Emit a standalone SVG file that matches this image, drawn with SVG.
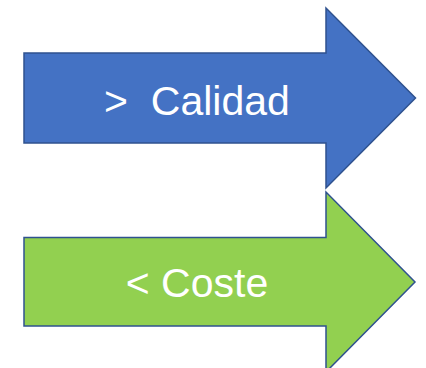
<svg xmlns="http://www.w3.org/2000/svg" width="426" height="368" viewBox="0 0 426 368">
<style>
.arrow{stroke:#2F528F;stroke-width:1.5;stroke-linejoin:miter}
.lbl{font-family:"Liberation Sans",Arial,sans-serif;font-size:41px;fill:#FFFFFF;text-anchor:middle}
</style>
<rect width="426" height="368" fill="#FFFFFF"/>
<g id="calidad">
<polygon class="arrow" fill="#4472C4" points="24,53 326,53 326,8 415.5,98 326,188 326,143 24,143"/>
<text class="lbl" x="197" y="115" xml:space="preserve">&gt;  Calidad</text>
</g>
<g id="coste">
<polygon class="arrow" fill="#92D050" points="24,237.5 326,237.5 326,192 415,282 326,372 326,326 24,326"/>
<text class="lbl" x="197" y="297">&lt; Coste</text>
</g>
<g id="connectors"/>
</svg>
